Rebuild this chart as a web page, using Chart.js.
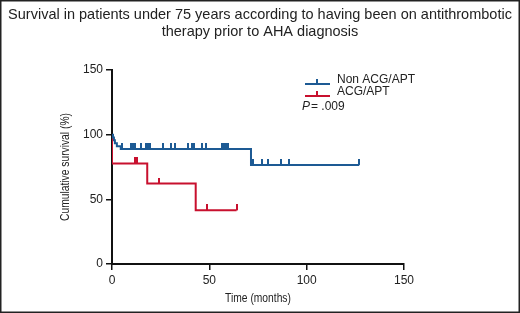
<!DOCTYPE html>
<html>
<head>
<meta charset="utf-8">
<script src="https://cdn.jsdelivr.net/npm/chart.js@4/dist/chart.umd.min.js"></script>
<style>
html,body{margin:0;padding:0;background:#fff;}
#wrap{position:relative;width:520px;height:313px;}
</style>
</head>
<body>
<div id="wrap"><canvas id="c" width="520" height="313"></canvas></div>
<script>
// ---- data ----
const titleLines = ["Survival in patients under 75 years according to having been on antithrombotic", "therapy prior to AHA diagnosis"];
const seriesNames = ["Non ACG/APT", "ACG/APT"];
const pValueText = ".009";
const xTitle = "Time (months)";
const yTitle = "Cumulative survival (%)";
const xTicks = [0, 50, 100, 150];
const yTicks = [0, 50, 100, 150];

const nonTimes = [0, 0.5, 1, 1.5, 2.5, 4.5, 71.4, 127];
const nonSurv  = [100, 97.8, 95.6, 93.3, 91.1, 88.9, 76.6, 76.6];
const nonCensor = [5, 10, 11, 12, 15, 17.5, 18.5, 19.5, 26, 30.5, 32.5, 39, 41, 42, 46, 48.5, 56.5, 57.5, 58.5, 59.5, 72.2, 77, 80, 87, 91, 127];

const acgTimes = [0, 0, 18.1, 43, 64];
const acgSurv  = [100, 77.8, 62.2, 41.5, 41.5];
const acgCensor = [12, 13, 24, 49, 64];

const BLUE = '#1d5a94';
const RED = '#c8102e';
const SANS = "'Liberation Sans', Arial, Helvetica, sans-serif";

function survAt(times, surv, t) {
  let v = surv[0];
  for (let i = 0; i < times.length; i++) { if (times[i] <= t) v = surv[i]; }
  return v;
}
function tickImg(color) {
  const c = document.createElement('canvas');
  c.width = 2; c.height = 12;
  const g = c.getContext('2d');
  g.fillStyle = color;
  g.fillRect(0, 0, 2, 6);
  return c;
}
const pts = (ts, vs) => ts.map((t, i) => ({x: t, y: vs[i]}));

const decor = {
  id: 'decor',
  afterDraw(chart) {
    const ctx = chart.ctx;
    const ca = chart.chartArea;
    ctx.save();
    // title
    ctx.fillStyle = '#222';
    ctx.font = '14.5px ' + SANS;
    ctx.textAlign = 'center';
    ctx.textBaseline = 'middle';
    ctx.fillText(titleLines[0], 260, 15);
    ctx.fillText(titleLines[1], 260, 32);
    // axis titles (condensed)
    ctx.font = '13px ' + SANS;
    ctx.save();
    ctx.translate((ca.left + ca.right) / 2, 298);
    ctx.scale(0.79, 1);
    ctx.fillText(xTitle, 0, 0);
    ctx.restore();
    ctx.save();
    ctx.translate(65, (ca.top + ca.bottom) / 2);
    ctx.rotate(-Math.PI / 2);
    ctx.scale(0.79, 1);
    ctx.fillText(yTitle, 0, 0);
    ctx.restore();
    // legend
    const items = [[seriesNames[0], BLUE, 84, 80], [seriesNames[1], RED, 96, 91.5]];
    ctx.lineWidth = 2;
    for (const [name, col, ly, ty] of items) {
      ctx.strokeStyle = col;
      ctx.beginPath(); ctx.moveTo(305, ly); ctx.lineTo(330, ly); ctx.stroke();
      ctx.beginPath(); ctx.moveTo(317, ly); ctx.lineTo(317, ly - 5); ctx.stroke();
      ctx.fillStyle = '#222';
      ctx.font = '12px ' + SANS;
      ctx.textAlign = 'left';
      ctx.fillText(name, 337, ty);
    }
    ctx.font = 'italic 12px ' + SANS;
    ctx.fillText('P', 302, 106.5);
    ctx.font = '12px ' + SANS;
    ctx.fillText('= ' + pValueText, 311, 106.5);
    // frame
    ctx.strokeStyle = '#222';
    ctx.lineWidth = 1.5;
    ctx.strokeRect(0.75, 0.75, 518.5, 311.5);
    ctx.restore();
  }
};

new Chart(document.getElementById('c'), {
  type: 'line',
  data: {
    datasets: [
      { label: seriesNames[0], data: pts(nonTimes, nonSurv), stepped: true, borderColor: BLUE, borderWidth: 2, pointRadius: 0, fill: false },
      { label: seriesNames[1], data: pts(acgTimes, acgSurv), stepped: true, borderColor: RED, borderWidth: 2, pointRadius: 0, fill: false },
      { type: 'scatter', data: nonCensor.map(t => ({x: t, y: survAt(nonTimes, nonSurv, t)})), pointStyle: tickImg(BLUE), pointRadius: 5, showLine: false },
      { type: 'scatter', data: acgCensor.map(t => ({x: t, y: survAt(acgTimes, acgSurv, t)})), pointStyle: tickImg(RED), pointRadius: 5, showLine: false }
    ]
  },
  options: {
    responsive: false,
    animation: false,
    events: [],
    layout: { padding: { left: 55, right: 116, top: 70, bottom: 0 } },
    plugins: { legend: { display: false }, title: { display: false }, tooltip: { enabled: false } },
    scales: {
      x: {
        type: 'linear', min: 0, max: 150,
        afterBuildTicks: s => { s.ticks = xTicks.map(v => ({value: v})); },
        afterFit: s => { s.height = 49; },
        grid: { display: true, drawOnChartArea: false, drawTicks: true, tickLength: 6, color: '#111', lineWidth: 1.5 },
        border: { display: true, color: '#111', width: 2 },
        ticks: { color: '#222', font: { family: SANS, size: 12 }, padding: 3, maxRotation: 0 },
        title: { display: false }
      },
      y: {
        type: 'linear', min: 0, max: 150,
        afterBuildTicks: s => { s.ticks = yTicks.map(v => ({value: v})); },
        afterFit: s => { s.width = 57; },
        grid: { display: true, drawOnChartArea: false, drawTicks: true, tickLength: 6, color: '#111', lineWidth: 1.5 },
        border: { display: true, color: '#111', width: 2 },
        ticks: { color: '#222', font: { family: SANS, size: 12 }, padding: 3 },
        title: { display: false }
      }
    }
  },
  plugins: [decor]
});
</script>
</body>
</html>
